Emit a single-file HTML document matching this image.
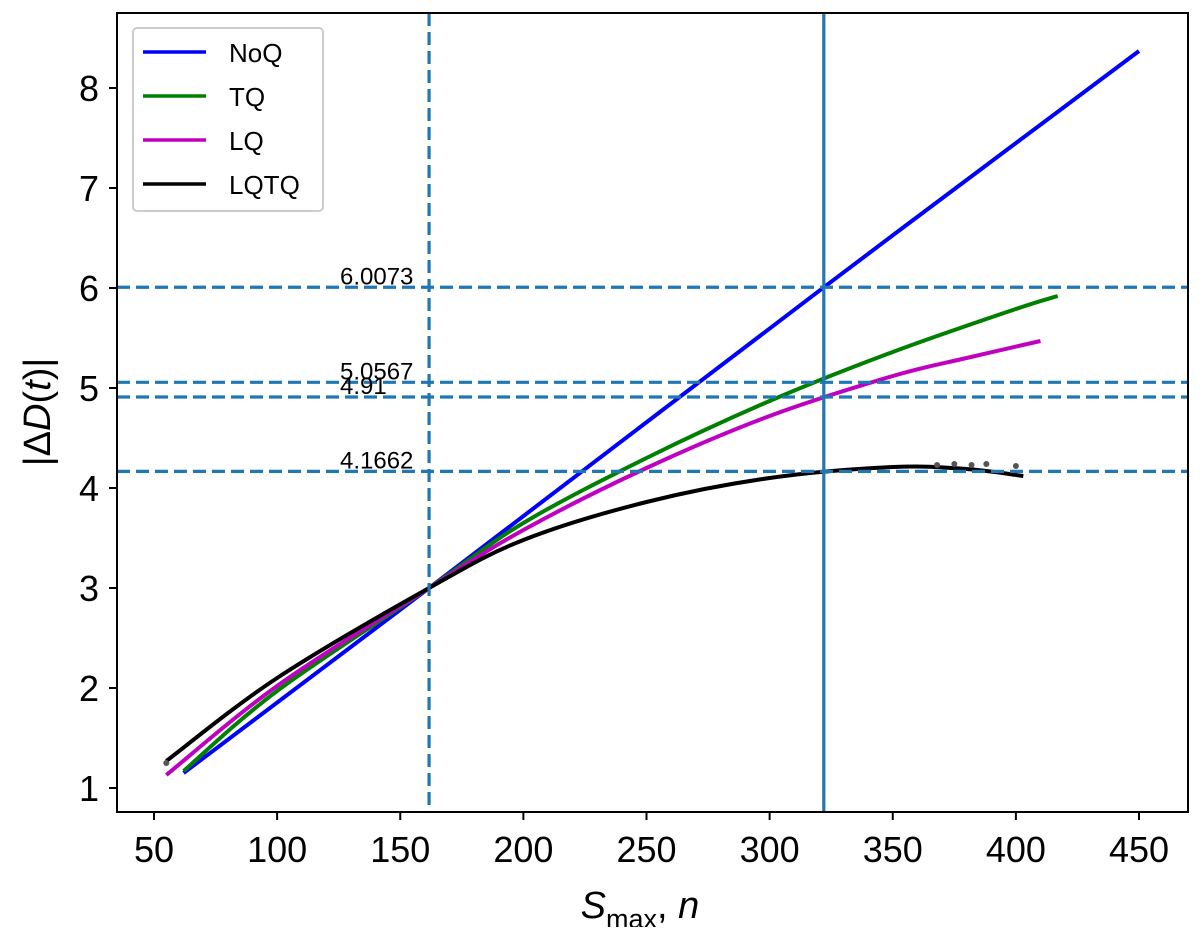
<!DOCTYPE html>
<html><head><meta charset="utf-8"><style>
body{margin:0;background:#fff;}
svg{font-family:"Liberation Sans","DejaVu Sans",sans-serif;}
</style></head><body>
<svg id="chart" width="1200" height="927" xmlns="http://www.w3.org/2000/svg"></svg>
<script>
const xTicks=[50,100,150,200,250,300,350,400,450];
const yTicks=[1,2,3,4,5,6,7,8];
const seriesNames=["NoQ","TQ","LQ","LQTQ"];
const seriesColors=["#0000ff","#008000","#c000c0","#000000"];
const noqX=[62,161.7,322,450];
const noqY=[1.15,3.0,6.0073,8.37];
const tqX=[62,100,161.7,200,250,300,350,400,417];
const tqY=[1.17,1.97,3.0,3.65,4.3,4.87,5.36,5.79,5.92];
const lqX=[55,100,161.7,200,250,300,350,380,410];
const lqY=[1.13,2.02,3.0,3.58,4.2,4.72,5.12,5.3,5.47];
const lqtqX=[55,100,161.7,200,250,300,350,380,403];
const lqtqY=[1.27,2.1,3.0,3.48,3.86,4.1,4.21,4.19,4.12];
const dotX=[55,368,375,382,388,400];
const dotY=[1.25,4.23,4.24,4.23,4.24,4.22];
const hLines=[6.0073,5.0567,4.91,4.1662];
const hLabels=["6.0073","5.0567","4.91","4.1662"];
const vDashed=161.7, vSolid=322;

const L=117,R=1188,T=13,B=812;
const xs=v=>154+(v-50)*2.4625;
const ys=v=>88+(8-v)*100;
const svg=document.getElementById('chart');
const NS="http://www.w3.org/2000/svg";
function mk(tag,attrs,parent){const e=document.createElementNS(NS,tag);for(const k in attrs)e.setAttribute(k,attrs[k]);(parent||svg).appendChild(e);return e;}
function smooth(px,py){
  let d='M'+px[0].toFixed(1)+','+py[0].toFixed(1);
  for(let i=0;i<px.length-1;i++){
    const x0=px[Math.max(i-1,0)],y0=py[Math.max(i-1,0)],x1=px[i],y1=py[i],x2=px[i+1],y2=py[i+1];
    const x3=px[Math.min(i+2,px.length-1)],y3=py[Math.min(i+2,px.length-1)];
    const c1x=x1+(x2-x0)/6,c1y=y1+(y2-y0)/6,c2x=x2-(x3-x1)/6,c2y=y2-(y3-y1)/6;
    d+=' C'+c1x.toFixed(1)+','+c1y.toFixed(1)+' '+c2x.toFixed(1)+','+c2y.toFixed(1)+' '+x2.toFixed(1)+','+y2.toFixed(1);
  }
  return d;
}
const defs=mk('defs',{});const cp=mk('clipPath',{id:'cp'},defs);mk('rect',{x:L,y:T,width:R-L,height:B-T},cp);
const plot=mk('g',{'clip-path':'url(#cp)'});



const all=[[noqX,noqY],[tqX,tqY],[lqX,lqY],[lqtqX,lqtqY]];
all.forEach((s,i)=>{
  const d=smooth(s[0].map(xs),s[1].map(ys));
  const p=mk('path',{d:d,fill:'none',stroke:seriesColors[i],'stroke-width':4,'stroke-linejoin':'round'},plot);
  
  
});
dotX.forEach((x,j)=>{
  const c=mk('circle',{cx:xs(x),cy:ys(dotY[j]),r:3,fill:'#555'},plot);
  
  
});
hLines.forEach((v,i)=>{
  const l=mk('line',{x1:L,x2:R,y1:ys(v),y2:ys(v),stroke:'#1f77b4','stroke-width':3.2,'stroke-dasharray':'13,6'},plot);
  
  
  const t=mk('text',{x:340,y:ys(v)-3,'font-size':24,fill:'#000'},plot);
  t.textContent=hLabels[i];
  
  
});
const vd=mk('line',{x1:xs(vDashed),x2:xs(vDashed),y1:T,y2:B,stroke:'#1f77b4','stroke-width':3.2,'stroke-dasharray':'13,6'},plot);


const vs=mk('line',{x1:xs(vSolid),x2:xs(vSolid),y1:T,y2:B,stroke:'#1f77b4','stroke-width':3.2},plot);



const fr=mk('rect',{x:L,y:T,width:R-L,height:B-T,fill:'none',stroke:'#000','stroke-width':2});


xTicks.forEach(v=>{
  mk('line',{x1:xs(v),x2:xs(v),y1:B,y2:B+8,stroke:'#000','stroke-width':2});
  const t=mk('text',{x:xs(v),y:B+50,'font-size':36,'text-anchor':'middle'});
  t.textContent=v;
  
  
});
yTicks.forEach(v=>{
  mk('line',{x1:L-8,x2:L,y1:ys(v),y2:ys(v),stroke:'#000','stroke-width':2});
  const t=mk('text',{x:L-18,y:ys(v)+13,'font-size':36,'text-anchor':'end'});
  t.textContent=v;
  
  
});
const xt=mk('text',{x:640,y:918,'font-size':38,'text-anchor':'middle'});
xt.innerHTML='<tspan font-style="italic">S</tspan><tspan font-size="27" dy="10">max</tspan><tspan dy="-10">, </tspan><tspan font-style="italic">n</tspan>';


const yt=mk('text',{x:0,y:0,'font-size':38,'text-anchor':'middle',transform:'translate(50,412) rotate(-90)'});
yt.innerHTML='|Δ<tspan font-style="italic">D</tspan>(<tspan font-style="italic">t</tspan>)|';


const lg=mk('g',{});


mk('rect',{x:133,y:28,width:190,height:183,rx:4,fill:'#fff',stroke:'#ccc','stroke-width':2},lg);
seriesNames.forEach((n,i)=>{
  const y=52+i*44;
  const e=mk('g',{},lg);
  
  
  mk('line',{x1:143,x2:206,y1:y,y2:y,stroke:seriesColors[i],'stroke-width':3.5},e);
  const t=mk('text',{x:229,y:y+10,'font-size':26},e);
  t.textContent=n;
});
</script>
</body></html>
